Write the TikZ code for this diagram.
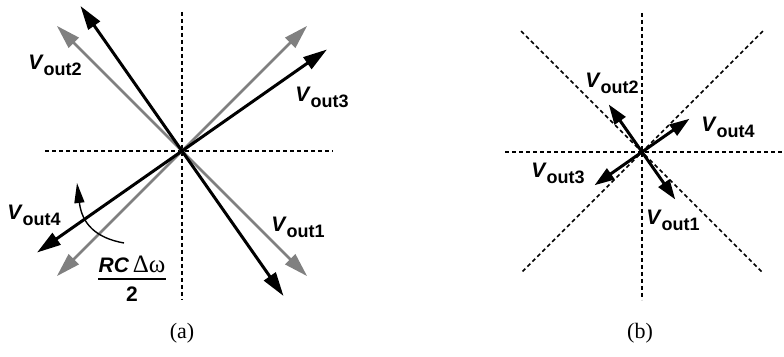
\documentclass[tikz,border=0pt]{standalone}
\usepackage{fontspec}
\setmainfont{Liberation Serif}
\setsansfont{Liberation Sans}
\usetikzlibrary{arrows.meta,calc,positioning}
\definecolor{PhGray}{RGB}{128,128,128}
\newcommand{\vout}[1]{\textit{V}\raisebox{-6pt}{\fontsize{18}{18}\selectfont out#1}}

\begin{document}
\begin{tikzpicture}[x=1pt,y=1pt,
  guide/.style={line width=1.5pt,dash pattern=on 4pt off 3pt},
  phasor/.style={line width=3pt,-{Triangle[length=24pt,width=14pt]}},
  small/.style={line width=3pt,-{Triangle[length=20pt,width=13pt]}},
  lab/.style={font={\fontsize{21}{22}\selectfont\sffamily\bfseries},inner sep=0pt},
  subcap/.style={font={\fontsize{22}{24}\selectfont}},
]
\useasboundingbox (0,0) rectangle (784,356);
% (a)
\coordinate (oa) at (182,205);
\draw[guide] (182,344) -- (182,56);
\draw[guide] (45,205) -- (333,205);
\foreach \ang in {45,135,225,315}
  \draw[phasor,line width=2.6pt,PhGray] (oa) -- ($(oa)+(\ang:177)$);
\foreach \ang in {35,125,215,305}
  \draw[phasor] (oa) -- ($(oa)+(\ang:177)$);
\node[lab] (a2) at (55,291) {\vout{2}};
\node[lab] (a3) at (322,259) {\vout{3}};
\node[lab] (a1) at (298,129) {\vout{1}};
\node[lab] (a4) at (34,141) {\vout{4}};
\node[lab,anchor=base] (num) at (132,83)
  {\textit{RC}\,{\rmfamily\mdseries\fontsize{25}{25}\selectfont Δω}};
\node[lab] (den) at (132,62) {2};
\draw[line width=1.4pt] ([yshift=-6pt]num.base west) -- ([yshift=-6pt]num.base east);
\coordinate (rot) at (77,173);
\draw[line width=1.4pt,-{Triangle[length=20pt,width=10pt]}] (124,113)
  .. controls (96,118) and (82,132) .. (rot);
\node[subcap] (capa) at (182,23) {(a)};
% (b)
\coordinate (ob) at (642,204);
\draw[guide] (642,343) -- (642,56);
\draw[guide] (505,204) -- (784,204);
\draw[guide] ($(ob)+(135:171)$) -- ($(ob)+(315:171)$);
\draw[guide] ($(ob)+(45:171)$) -- ($(ob)+(225:171)$);
\foreach \ang in {35,125,215,305}
  \draw[small] (ob) -- ($(ob)+(\ang:58)$);
\node[lab] (b2) at (612,273) {\vout{2}};
\node[lab] (b4) at (728,229) {\vout{4}};
\node[lab] (b3) at (558,183) {\vout{3}};
\node[lab] (b1) at (673,136) {\vout{1}};
\node[subcap] (capb) at (640,23) {(b)};
\end{tikzpicture}
\end{document}
